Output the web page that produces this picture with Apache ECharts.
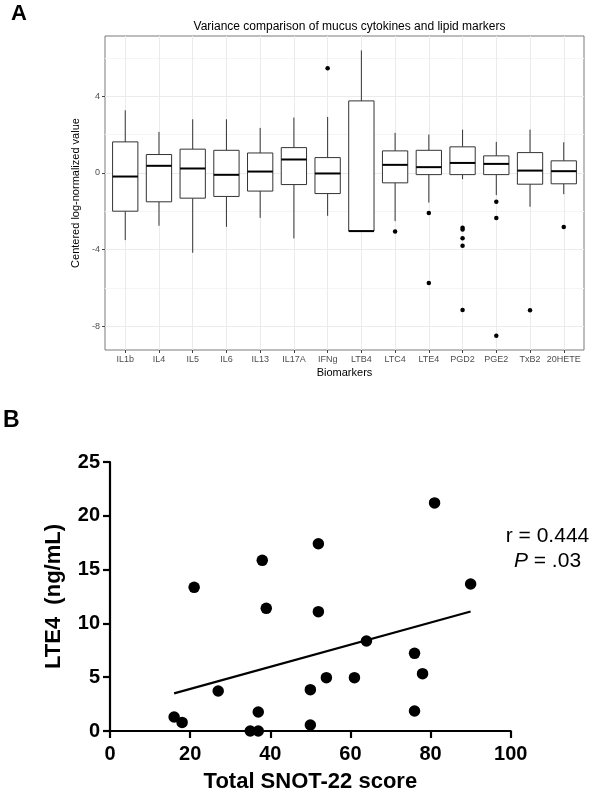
<!DOCTYPE html>
<html>
<head>
<meta charset="utf-8">
<script src="https://cdn.jsdelivr.net/npm/echarts@6/dist/echarts.min.js"></script>
<style>
html,body{margin:0;padding:0;background:#fff;}
#chart{width:594px;height:795px;}
</style>
</head>
<body>
<div id="chart"></div>
<script>
// ---------- Panel A data ----------
var biomarkers = ['IL1b','IL4','IL5','IL6','IL13','IL17A','IFNg','LTB4','LTC4','LTE4','PGD2','PGE2','TxB2','20HETE'];
var whiskerLow  = [-3.51,-2.76,-4.17,-2.82,-2.35,-3.42,-2.24,-3.04,-2.52,-1.55,-0.33,-1.16,-1.77,-1.11];
var quartile1   = [-2.00,-1.51,-1.32,-1.23,-0.95,-0.61,-1.08,-3.04,-0.52,-0.09,-0.09,-0.09,-0.59,-0.57];
var medians     = [-0.19, 0.37, 0.23,-0.10, 0.07, 0.70,-0.03,-3.04, 0.42, 0.30, 0.52, 0.47, 0.12, 0.09];
var quartile3   = [ 1.62, 0.96, 1.24, 1.18, 1.04, 1.32, 0.80, 3.76, 1.15, 1.18, 1.36, 0.89, 1.06, 0.63];
var whiskerHigh = [ 3.27, 2.14, 2.80, 2.80, 2.35, 2.89, 2.92, 6.40, 2.09, 2.00, 2.26, 1.62, 2.26, 1.60];
var outlierMarker = ['IFNg','LTC4','LTE4','LTE4','PGD2','PGD2','PGD2','PGD2','PGD2','PGE2','PGE2','PGE2','TxB2','20HETE'];
var outlierValue  = [ 5.46,-3.06,-2.09,-5.75,-2.87,-2.95,-3.41,-3.81,-7.16,-1.51,-2.36,-8.50,-7.18,-2.82];
var yTicksA = [-8,-4,0,4];
var yMinorA = [-6,-2,2,6];

// ---------- Panel B data ----------
var snotScore = [16,18,27,35,37,37,39,21,38,81,52,90,52,64,76,78,54,61,50,76,50];
var lte4Value = [1.3,0.8,3.72,0,0,1.77,11.4,13.35,15.86,21.2,17.4,13.66,11.09,8.36,7.22,5.33,4.96,4.96,3.84,1.86,0.56];
var fitX = [16, 90];
var fitY = [3.5, 11.1];

var FONT = '"Liberation Sans", Arial, Helvetica, sans-serif';

var boxData = biomarkers.map(function(b,i){
  return [i, whiskerLow[i], quartile1[i], medians[i], quartile3[i], whiskerHigh[i]];
});
var outlierData = outlierMarker.map(function(b,i){
  return [biomarkers.indexOf(b), outlierValue[i]];
});
var scatterData = snotScore.map(function(s,i){ return [s, lte4Value[i]]; });
var fitData = fitX.map(function(x,i){ return [x, fitY[i]]; });
var catIdx = biomarkers.map(function(b,i){ return i; });

var chart = echarts.init(document.getElementById('chart'), null, {renderer:'canvas'});

var option = {
  animation: false,
  backgroundColor: '#fff',
  textStyle: {fontFamily: FONT},
  title: [{
    text: 'Variance comparison of mucus cytokines and lipid markers',
    left: 344.5, top: 16, textAlign: 'center',
    textStyle: {fontSize: 12, fontWeight: 'normal', color: '#000', fontFamily: FONT}
  }],
  graphic: [
    {type:'text', left: 11, top: 3, style:{text:'A', font:'bold 22px ' + FONT, fill:'#000'}},
    {type:'text', left: 3, top: 409, style:{text:'B', font:'bold 23px ' + FONT, fill:'#000'}},
    {type:'text', x: 547.5, y: 536, style:{text:'r = 0.444', font:'21px ' + FONT, fill:'#000', textAlign:'center', textVerticalAlign:'middle'}},
    {type:'text', x: 547.5, y: 561, style:{
      text:'{i|P} = .03', font:'21px ' + FONT, fill:'#000', textAlign:'center', textVerticalAlign:'middle',
      rich:{i:{fontStyle:'italic', fontSize:21, fontFamily:FONT, fill:'#000'}}
    }}
  ],
  grid: [
    {left: 105, top: 36, width: 479, height: 314, show: true, borderColor: '#7a7a7a', borderWidth: 1, backgroundColor: 'transparent'},
    {left: 110, top: 462, width: 400.7, height: 269}
  ],
  xAxis: [
    {
      gridIndex: 0, type: 'value', min: -0.6, max: 13.6, position: 'bottom',
      name: 'Biomarkers', nameLocation: 'middle', nameGap: 17,
      nameTextStyle: {fontSize: 11, color: '#000', fontFamily: FONT},
      axisLine: {show: false, onZero: false},
      axisTick: {show: true, length: 3, lineStyle: {color: '#444'}, customValues: catIdx},
      axisLabel: {fontSize: 9, color: '#4d4d4d', margin: 5, customValues: catIdx,
                  formatter: function(v){ return biomarkers[Math.round(v)] || ''; }},
      splitLine: {show: true, lineStyle: {color: '#ebebeb', width: 1}}
    },
    {
      gridIndex: 1, type: 'value', min: 0, max: 100, interval: 20,
      name: 'Total SNOT-22 score', nameLocation: 'middle', nameGap: 40,
      nameTextStyle: {fontSize: 22, fontWeight: 'bold', color: '#000', fontFamily: FONT},
      axisLine: {show: true, onZero: false, lineStyle: {color: '#000', width: 2.2}},
      axisTick: {show: true, length: 7, inside: false, lineStyle: {color: '#000', width: 2.2}},
      axisLabel: {fontSize: 20, fontWeight: 'bold', color: '#000', margin: 13, fontFamily: FONT},
      splitLine: {show: false}
    }
  ],
  yAxis: [
    {
      gridIndex: 0, type: 'value', min: -9.25, max: 7.15, position: 'left',
      name: 'Centered log-normalized value', nameLocation: 'middle', nameGap: 17,
      nameTextStyle: {fontSize: 11, color: '#000', fontFamily: FONT},
      axisLine: {show: false, onZero: false},
      axisTick: {show: true, length: 3, lineStyle: {color: '#444'}, customValues: yTicksA},
      axisLabel: {fontSize: 9, color: '#4d4d4d', margin: 5, customValues: yTicksA},
      splitLine: {show: true, lineStyle: {color: '#ebebeb', width: 1}}
    },
    {
      gridIndex: 0, type: 'value', min: -9.25, max: 7.15, position: 'left',
      axisLine: {show: false, onZero: false},
      axisTick: {show: false, customValues: yMinorA},
      axisLabel: {show: false, customValues: yMinorA},
      splitLine: {show: true, lineStyle: {color: '#f5f5f5', width: 1}}
    },
    {
      gridIndex: 1, type: 'value', min: 0, max: 25, interval: 5,
      name: 'LTE4  (ng/mL)', nameLocation: 'middle', nameGap: 45,
      nameTextStyle: {fontSize: 22, fontWeight: 'bold', color: '#000', fontFamily: FONT},
      axisLine: {show: true, onZero: false, lineStyle: {color: '#000', width: 2.2}},
      axisTick: {show: true, length: 7, inside: false, lineStyle: {color: '#000', width: 2.2}},
      axisLabel: {fontSize: 20, fontWeight: 'bold', color: '#000', margin: 10, fontFamily: FONT},
      splitLine: {show: false}
    }
  ],
  series: [
    {
      type: 'custom', xAxisIndex: 0, yAxisIndex: 0,
      data: boxData,
      encode: {x: 0, y: [1,2,3,4,5]},
      z: 3,
      renderItem: function(params, api){
        var x = api.value(0);
        var lo = api.coord([x, api.value(1)]);
        var q1 = api.coord([x, api.value(2)]);
        var md = api.coord([x, api.value(3)]);
        var q3 = api.coord([x, api.value(4)]);
        var hi = api.coord([x, api.value(5)]);
        var w = api.size([0.75, 0])[0];
        var ls = {stroke: '#333', lineWidth: 1};
        return {type: 'group', children: [
          {type: 'line', shape: {x1: lo[0], y1: lo[1], x2: q1[0], y2: q1[1]}, style: ls},
          {type: 'line', shape: {x1: q3[0], y1: q3[1], x2: hi[0], y2: hi[1]}, style: ls},
          {type: 'rect', shape: {x: q3[0] - w/2, y: q3[1], width: w, height: q1[1] - q3[1]}, style: {fill: '#fff', stroke: '#333', lineWidth: 1}},
          {type: 'line', shape: {x1: md[0] - w/2, y1: md[1], x2: md[0] + w/2, y2: md[1]}, style: {stroke: '#000', lineWidth: 2}}
        ]};
      }
    },
    {
      type: 'scatter', xAxisIndex: 0, yAxisIndex: 0, data: outlierData,
      symbolSize: 4.5, itemStyle: {color: '#000', opacity: 1}, z: 4
    },
    {
      type: 'line', xAxisIndex: 1, yAxisIndex: 2, data: fitData,
      showSymbol: false, symbol: 'none', lineStyle: {color: '#000', width: 2.2}, z: 3
    },
    {
      type: 'scatter', xAxisIndex: 1, yAxisIndex: 2, data: scatterData,
      symbolSize: 11.5, itemStyle: {color: '#000', opacity: 1}, z: 4
    }
  ]
};
chart.setOption(option);
</script>
</body>
</html>
